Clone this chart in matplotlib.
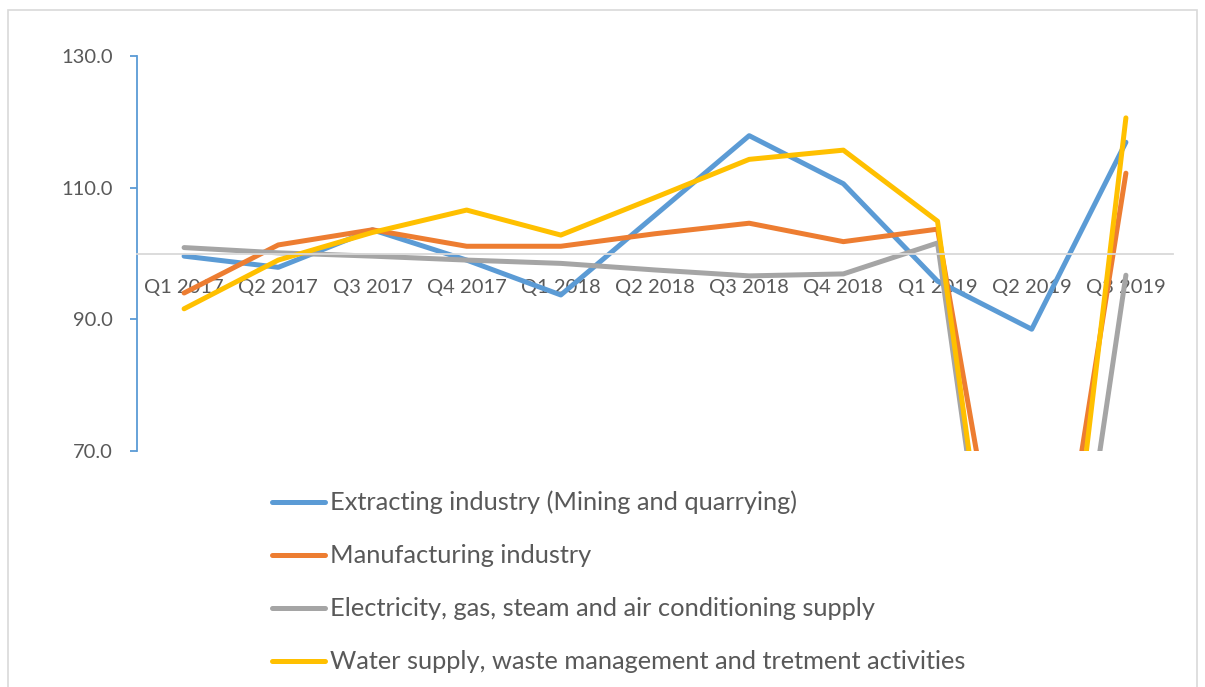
import matplotlib.pyplot as plt
from matplotlib.patches import Rectangle

# categories and index values
quarters = ["Q1 2017", "Q2 2017", "Q3 2017", "Q4 2017", "Q1 2018", "Q2 2018",
            "Q3 2018", "Q4 2018", "Q1 2019", "Q2 2019", "Q3 2019"]
extracting = [99.6, 97.9, 103.6, 99.0, 93.7, 105.8, 117.9, 110.6, 95.8, 88.5, 116.9]
manufacturing = [94.0, 101.3, 103.6, 101.1, 101.1, 103.0, 104.6, 101.8, 103.7, 22.0, 112.2]
electricity = [100.9, 100.1, 99.6, 99.0, 98.5, 97.5, 96.6, 96.9, 101.6, 0.0, 96.7]
water = [91.6, 99.0, 103.2, 106.6, 102.8, 108.5, 114.3, 115.7, 104.9, 0.0, 120.6]

names = ["Extracting industry (Mining and quarrying)", "Manufacturing industry",
         "Electricity, gas, steam and air conditioning supply",
         "Water supply, waste management and tretment activities"]
colors = ["#5B9BD5", "#ED7D31", "#A5A5A5", "#FFC000"]

plt.rcParams['font.family'] = ['Lato', 'DejaVu Sans']

W, H = 1205, 687
fig = plt.figure(figsize=(W / 100, H / 100), dpi=100)
fig.patches.append(Rectangle((8 / W, -0.01), (1197 - 8) / W, 1 - 10 / H + 0.01,
                             transform=fig.transFigure, fill=False,
                             edgecolor="#D9D9D9", linewidth=1.2))

ax = fig.add_axes([137 / W, 1 - 451 / H, (1173 - 137) / W, (451 - 56) / H])
x = list(range(len(quarters)))
for vals, name, c in zip([extracting, manufacturing, electricity, water], names, colors):
    ax.plot(x, vals, color=c, linewidth=3.6, label=name, solid_capstyle='round')

ax.set_xlim(-0.5, len(quarters) - 0.5)
ax.set_ylim(70, 130)
ax.set_yticks([70, 90, 110, 130])
ax.set_yticklabels(["%.1f" % v for v in [70, 90, 110, 130]])
ax.set_xticks(x)
ax.set_xticklabels(quarters)
ax.set_axisbelow(True)

for s in ["top", "right"]:
    ax.spines[s].set_visible(False)
ax.spines["left"].set_color("#5B9BD5")
ax.spines["left"].set_linewidth(1.3)
ax.spines["bottom"].set_position(("data", 100))
ax.spines["bottom"].set_color("#D9D9D9")
ax.spines["bottom"].set_linewidth(1.3)

ax.tick_params(axis="y", colors="#5B9BD5", length=5, width=1.3, pad=12.5,
               labelcolor="#595959", labelsize=14.5)
ax.tick_params(axis="x", length=0, pad=18, labelcolor="#595959", labelsize=14.5)

leg = fig.legend(loc="upper left", bbox_to_anchor=(249 / W, 1 - 468 / H),
                 frameon=False, fontsize=18.3, handlelength=2.1, handletextpad=0.2,
                 labelspacing=1.18, labelcolor="#595959")

fig.savefig("out.png", dpi=100)
